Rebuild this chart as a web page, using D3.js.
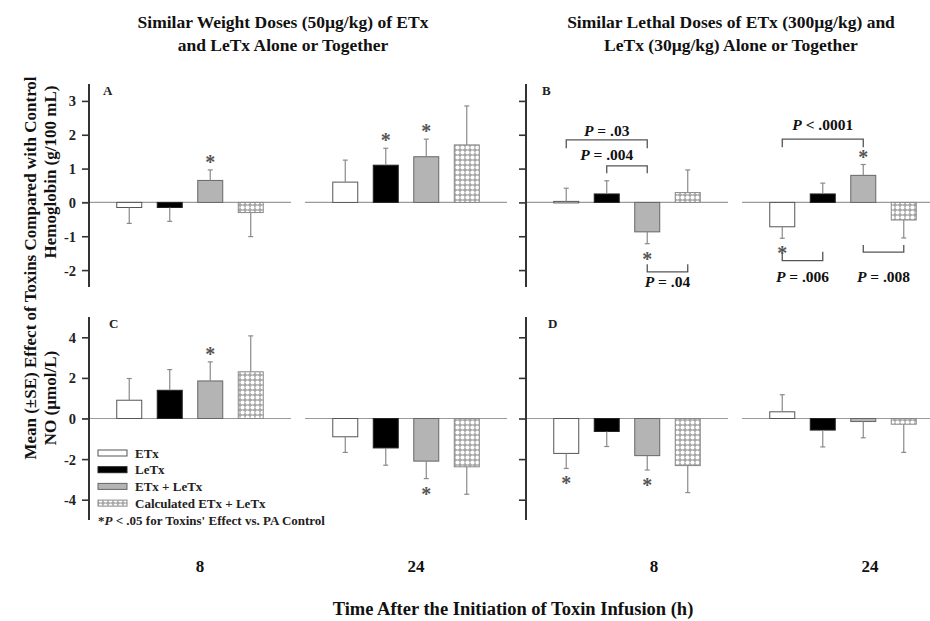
<!DOCTYPE html>
<html><head><meta charset="utf-8">
<script src="https://cdn.jsdelivr.net/npm/d3@7"></script>
<style>
body{margin:0;background:#fff;}
svg{display:block;font-family:"Liberation Serif","Times New Roman",serif;font-weight:bold;}
</style></head>
<body><svg id="c" width="930" height="621"></svg>
<script>
// ---------- data ----------
const SERIES = ["ETx", "LeTx", "ETx + LeTx", "Calculated ETx + LeTx"];
const TIMES = ["8", "24"];
const HB_TICKS = [-2, -1, 0, 1, 2, 3];
const NO_TICKS = [-4, -2, 0, 2, 4];

// Panel A: hemoglobin, similar weight doses
const A_8_mean  = [-0.15, -0.15, 0.65, -0.30];
const A_8_se    = [0.47, 0.41, 0.31, 0.71];
const A_24_mean = [0.60, 1.10, 1.35, 1.70];
const A_24_se   = [0.65, 0.50, 0.52, 1.15];
// Panel B: hemoglobin, similar lethal doses
const B_8_mean  = [0.03, 0.25, -0.87, 0.29];
const B_8_se    = [0.39, 0.39, 0.35, 0.67];
const B_24_mean = [-0.72, 0.25, 0.80, -0.52];
const B_24_se   = [0.34, 0.32, 0.32, 0.53];
// Panel C: NO, similar weight doses
const C_8_mean  = [0.90, 1.39, 1.85, 2.30];
const C_8_se    = [1.07, 1.02, 0.94, 1.77];
const C_24_mean = [-0.90, -1.45, -2.10, -2.38];
const C_24_se   = [0.77, 0.85, 0.86, 1.35];
// Panel D: NO, similar lethal doses
const D_8_mean  = [-1.72, -0.64, -1.83, -2.32];
const D_8_se    = [0.74, 0.74, 0.71, 1.33];
const D_24_mean = [0.33, -0.57, -0.15, -0.28];
const D_24_se   = [0.84, 0.83, 0.80, 1.39];

// significance vs PA control (panel, time, series index)
const STARS = [
  ["A","8",2], ["A","24",1], ["A","24",2],
  ["B","8",2], ["B","24",0], ["B","24",2],
  ["C","8",2], ["C","24",2],
  ["D","8",0], ["D","8",2]
];
// pairwise comparison brackets in panel B (levels in g/100 mL)
const BRACKETS = [
  {time:"8",  from:0, to:2, level:1.85, leg:1.60, label:".03",   op:"=", textLevel:1.97, textAt:null},
  {time:"8",  from:1, to:2, level:1.08, leg:0.86, label:".004",  op:"=", textLevel:1.24, textAt:1},
  {time:"8",  from:2, to:3, level:-2.05, leg:-1.83, label:".04", op:"=", textLevel:-2.49, textAt:null},
  {time:"24", from:0, to:2, level:1.87, leg:1.63, label:".0001", op:"<", textLevel:2.15, textAt:null},
  {time:"24", from:0, to:1, level:-1.72, leg:-1.46, label:".006", op:"=", textLevel:-2.34, textAt:null},
  {time:"24", from:2, to:3, level:-1.47, leg:-1.26, label:".008", op:"=", textLevel:-2.34, textAt:null}
];
const TITLES = [
  ["Similar Weight Doses (50\u00b5g/kg) of ETx", "and LeTx  Alone or Together"],
  ["Similar Lethal Doses of ETx (300\u00b5g/kg) and", "LeTx (30\u00b5g/kg) Alone or Together"]
];

// ---------- layout ----------
const svg = d3.select("#c");
const colAxisX = [89, 526];
const rowRange = [[287, 84], [520, 317]];
const panels = [
  {id:"A", row:0, col:0, domain:[-2.5,3.5], ticks:HB_TICKS, labels:true,  data:{"8":[A_8_mean,A_8_se],"24":[A_24_mean,A_24_se]}},
  {id:"B", row:0, col:1, domain:[-2.5,3.5], ticks:HB_TICKS, labels:false, data:{"8":[B_8_mean,B_8_se],"24":[B_24_mean,B_24_se]}},
  {id:"C", row:1, col:0, domain:[-5,5],     ticks:NO_TICKS, labels:true,  data:{"8":[C_8_mean,C_8_se],"24":[C_24_mean,C_24_se]}},
  {id:"D", row:1, col:1, domain:[-5,5],     ticks:NO_TICKS, labels:false, data:{"8":[D_8_mean,D_8_se],"24":[D_24_mean,D_24_se]}}
];
const fills = ["#ffffff", "#000000", "#b4b4b4", "url(#hatch)"];
const strokes = ["#555", "#222", "#666", "#888"];

// hatch pattern
const defs = svg.append("defs");
const pat = defs.append("pattern").attr("id","hatch").attr("patternUnits","userSpaceOnUse")
  .attr("width",5).attr("height",5);
pat.append("rect").attr("width",5).attr("height",5).attr("fill","#a6a6a6");
pat.append("circle").attr("cx",2.5).attr("cy",2.5).attr("r",2.05).attr("fill","#fff");

const scales = {};
panels.forEach(p => {
  const ax = colAxisX[p.col];
  const y = d3.scaleLinear().domain(p.domain).range(rowRange[p.row]);
  const x0 = d3.scaleBand().domain(TIMES).range([ax, ax + 418]).paddingInner(0.065).paddingOuter(0);
  const x1 = d3.scaleBand().domain(d3.range(SERIES.length)).range([0, x0.bandwidth()])
    .paddingInner(0.383).paddingOuter(0.685);
  scales[p.id] = {x0, x1, y};
  const g = svg.append("g");

  // zero lines per group
  TIMES.forEach(t => {
    g.append("line").attr("x1", x0(t) - (t === "8" && p.col === 0 ? 7 : 0)).attr("x2", x0(t) + x0.bandwidth())
      .attr("y1", y(0)).attr("y2", y(0)).attr("stroke","#9a9a9a").attr("stroke-width",1.2);
  });

  // axis
  const axis = d3.axisLeft(y).tickValues(p.ticks).tickSize(7).tickSizeOuter(0)
    .tickFormat(p.labels ? (d => String(d)) : () => "");
  const ag = g.append("g").attr("transform", `translate(${ax},0)`).call(axis);
  ag.select(".domain").attr("stroke","#333").attr("stroke-width",2)
    .attr("d", `M0,${rowRange[p.row][0]}V${rowRange[p.row][1]}`);
  ag.selectAll(".tick line").attr("stroke","#333").attr("stroke-width",1.6);
  ag.selectAll(".tick text").attr("font-family","Liberation Serif, serif").attr("font-weight","bold")
    .attr("font-size",14.5).attr("fill","#222").attr("x",-13).attr("dy","0.34em");

  // panel letter
  g.append("text").attr("x", ax + (p.col === 0 ? 14 : 16) + (p.row === 1 ? 6 : 0))
    .attr("y", rowRange[p.row][1] + 11).attr("font-size",13).attr("fill","#222").text(p.id);

  // bars + error bars
  TIMES.forEach(t => {
    const [means, ses] = p.data[t];
    means.forEach((m, i) => {
      const bx = x0(t) + x1(i), bw = x1.bandwidth();
      g.append("rect").attr("x", bx).attr("width", bw)
        .attr("y", Math.min(y(m), y(0))).attr("height", Math.max(1.5, Math.abs(y(m) - y(0))))
        .attr("fill", fills[i]).attr("stroke", strokes[i]).attr("stroke-width",1);
      const end = m >= 0 ? m + ses[i] : m - ses[i];
      const cx = bx + bw / 2;
      g.append("line").attr("x1",cx).attr("x2",cx).attr("y1",y(m)).attr("y2",y(end))
        .attr("stroke","#8a8a8a").attr("stroke-width",1.2);
      g.append("line").attr("x1",cx-2.5).attr("x2",cx+2.5).attr("y1",y(end)).attr("y2",y(end))
        .attr("stroke","#8a8a8a").attr("stroke-width",1.2);
    });
  });
});

// stars
STARS.forEach(([pid, t, i]) => {
  const p = panels.find(q => q.id === pid), s = scales[pid];
  const [means, ses] = p.data[t];
  const m = means[i];
  const end = m >= 0 ? m + ses[i] : m - ses[i];
  const cx = s.x0(t) + s.x1(i) + s.x1.bandwidth() / 2;
  const cy = s.y(end) + (m >= 0 ? -11 : 12);
  svg.append("text").attr("x", cx).attr("y", cy + 10).attr("text-anchor","middle")
    .attr("font-size",20).attr("fill","#555").text("*");
});

// brackets (panel B)
{
  const s = scales.B;
  const cxOf = (t, i) => s.x0(t) + s.x1(i) + s.x1.bandwidth() / 2;
  BRACKETS.forEach(b => {
    const xa = cxOf(b.time, b.from), xb = cxOf(b.time, b.to);
    svg.append("path")
      .attr("d", `M${xa},${s.y(b.leg)}V${s.y(b.level)}H${xb}V${s.y(b.leg)}`)
      .attr("fill","none").attr("stroke","#555").attr("stroke-width",1.3);
    const tx = b.textAt === null ? (xa + xb) / 2 : cxOf(b.time, b.textAt);
    const tt = svg.append("text").attr("x", tx).attr("y", s.y(b.textLevel))
      .attr("text-anchor","middle").attr("font-size",15.5).attr("fill","#111");
    tt.append("tspan").attr("font-style","italic").text("P");
    tt.append("tspan").text(` ${b.op} ${b.label}`);
  });
}

// titles
TITLES.forEach((lines, c) => {
  const cx = c === 0 ? 283 : 731;
  lines.forEach((l, k) => svg.append("text").attr("x", cx).attr("y", 28 + k * 23)
    .attr("text-anchor","middle").attr("font-size",17.5).attr("fill","#111").text(l));
});

// y axis titles
svg.append("text").attr("transform","translate(36,268) rotate(-90)").attr("text-anchor","middle")
  .attr("font-size",17).attr("fill","#111").text("Mean (\u00b1SE) Effect of Toxins Compared with Control");
svg.append("text").attr("transform","translate(56,172) rotate(-90)").attr("text-anchor","middle")
  .attr("font-size",17).attr("fill","#111").text("Hemoglobin (g/100 mL)");
svg.append("text").attr("transform","translate(56,398) rotate(-90)").attr("text-anchor","middle")
  .attr("font-size",17).attr("fill","#111").text("NO (\u00b5mol/L)");

// time labels
const timeShift = [10, 27];
panels.filter(p => p.row === 1).forEach(p => {
  const s = scales[p.id];
  TIMES.forEach(t => svg.append("text")
    .attr("x", s.x0(t) + s.x0.bandwidth() / 2 + timeShift[p.col]).attr("y", 572)
    .attr("text-anchor","middle").attr("font-size",17).attr("fill","#111").text(t));
});
svg.append("text").attr("x",513).attr("y",615).attr("text-anchor","middle").attr("font-size",18.5)
  .attr("fill","#111").text("Time After the Initiation of Toxin Infusion (h)");

// legend
const lg = svg.append("g").attr("transform","translate(98,453)");
SERIES.forEach((name, i) => {
  const row = lg.append("g").attr("transform", `translate(0,${i * 16.7})`);
  row.append("rect").attr("x",0).attr("y",-3).attr("width",29).attr("height",6)
    .attr("fill", fills[i]).attr("stroke", strokes[i]).attr("stroke-width",1);
  row.append("text").attr("x",37).attr("y",4.5).attr("font-size",13).attr("fill","#222").text(name);
});
const fn = lg.append("text").attr("x",0).attr("y",72).attr("font-size",13).attr("fill","#222");
fn.append("tspan").text("*");
fn.append("tspan").attr("font-style","italic").text("P");
fn.append("tspan").text(" < .05 for Toxins' Effect vs. PA Control");
</script></body></html>
